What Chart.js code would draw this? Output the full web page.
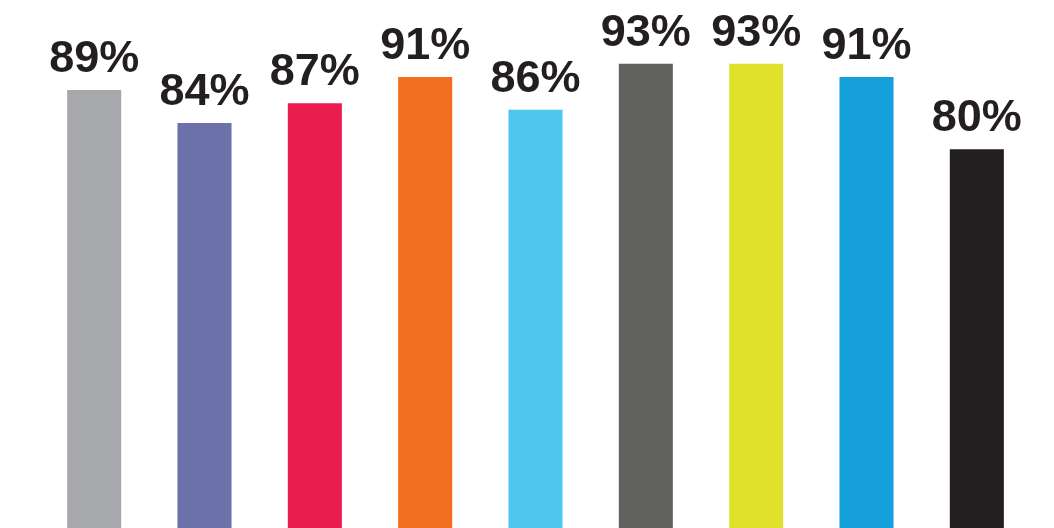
<!DOCTYPE html>
<html>
<head>
<meta charset="utf-8">
<script src="https://cdn.jsdelivr.net/npm/chart.js@4/dist/chart.umd.min.js"></script>
<style>
html,body{margin:0;padding:0;background:#fff;}
#wrap{width:1054px;height:528px;position:relative;}
</style>
</head>
<body>
<div id="wrap"><canvas id="c"></canvas></div>
<script>
const categories = ["A","B","C","D","E","F","G","H","I"];
const values = [89, 84, 87, 91, 86, 93, 93, 91, 80];
const labels = ["89%","84%","87%","91%","86%","93%","93%","91%","80%"];
const colors = ["#a7a8ab","#6c72a9","#e91e4f","#f26f21","#4fc6f0","#616260","#dfe12b","#159fdb","#231f20"];

const labelPlugin = {
  id: 'barLabels',
  afterDatasetsDraw(chart) {
    const ctx = chart.ctx;
    const meta = chart.getDatasetMeta(0);
    ctx.save();
    ctx.font = 'bold 45px "Liberation Sans", Arial, sans-serif';
    ctx.fillStyle = '#231f20';
    ctx.textAlign = 'center';
    ctx.textBaseline = 'alphabetic';
    meta.data.forEach((bar, i) => {
      ctx.fillText(labels[i], bar.x, bar.y - 18);
    });
    ctx.restore();
  }
};

new Chart(document.getElementById('c'), {
  type: 'bar',
  data: {
    labels: categories,
    datasets: [{
      data: values,
      backgroundColor: colors,
      borderWidth: 0,
      barPercentage: 0.49,
      categoryPercentage: 1.0
    }]
  },
  options: {
    responsive: true,
    maintainAspectRatio: false,
    animation: false,
    layout: { padding: { left: 39, right: 22, top: 0, bottom: 0 } },
    plugins: { legend: { display: false }, tooltip: { enabled: false } },
    scales: {
      x: { display: false },
      y: { display: false, min: 22.4, max: 102.7 }
    }
  },
  plugins: [labelPlugin]
});
</script>
</body>
</html>
